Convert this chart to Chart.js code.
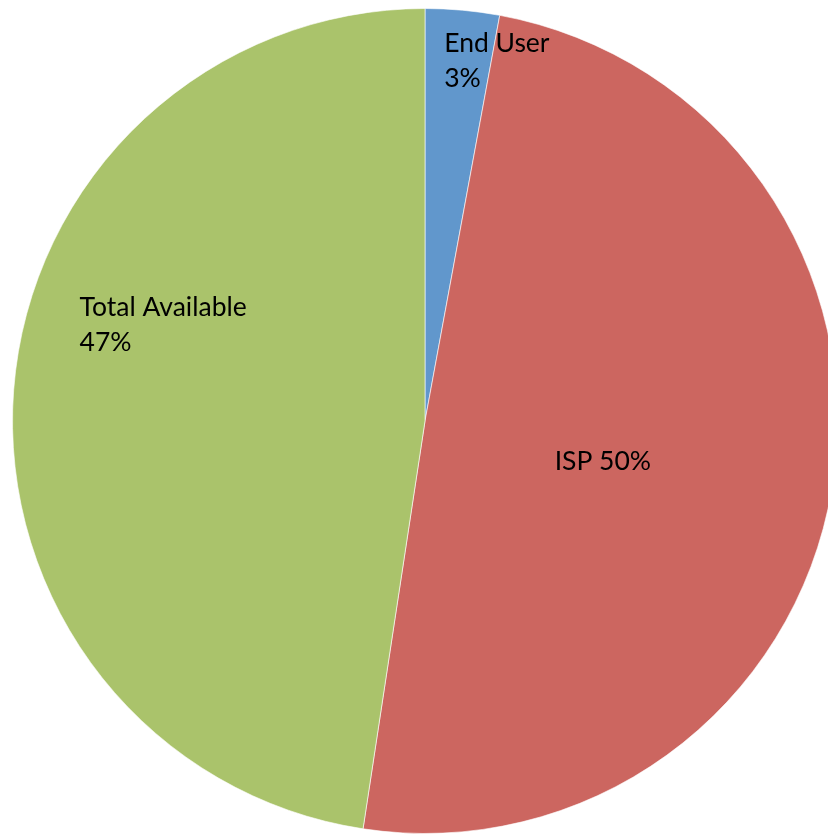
<!DOCTYPE html>
<html>
<head>
<meta charset="utf-8">
<script src="https://cdn.jsdelivr.net/npm/chart.js@4/dist/chart.umd.min.js"></script>
<style>
html,body{margin:0;padding:0;background:#fff;overflow:hidden;width:828px;height:835px;}
#wrap{position:absolute;left:0;top:0;width:850px;height:842px;}
</style>
</head>
<body>
<div id="wrap"><canvas id="c" width="850" height="842"></canvas></div>
<script>
const categories = ['End User', 'ISP', 'Total Available'];
const shares = [2.9, 49.5, 47.6];
const percentLabels = ['3%', '50%', '47%'];
const colors = ['#6197CC', '#CC6660', '#AAC36B'];

// label placement: [angle in degrees clockwise from 12 o'clock, fraction of radius, multiline]
const labelPlacement = [
  {angle: 11.3, frac: 0.889, lines: (c, p) => [c, p]},
  {angle: 102.7, frac: 0.442, lines: (c, p) => [c + ' ' + p]},
  {angle: 290.1, frac: 0.676, lines: (c, p) => [c, p]}
];

const labelPlugin = {
  id: 'pieLabels',
  afterDatasetsDraw(chart) {
    const ctx = chart.ctx;
    const meta = chart.getDatasetMeta(0);
    ctx.save();
    ctx.font = '26.5px Lato, "Open Sans", sans-serif';
    ctx.fillStyle = '#000';
    ctx.textBaseline = 'middle';
    ctx.textAlign = 'left';
    const lh = 35;
    meta.data.forEach((arc, i) => {
      const pl = labelPlacement[i];
      const a = pl.angle * Math.PI / 180;
      const cx = arc.x + Math.sin(a) * arc.outerRadius * pl.frac;
      const cy = arc.y - Math.cos(a) * arc.outerRadius * pl.frac;
      const lines = pl.lines(categories[i], percentLabels[i]);
      const w = Math.max(...lines.map(l => ctx.measureText(l).width));
      const top = cy - (lines.length - 1) * lh / 2;
      lines.forEach((l, k) => ctx.fillText(l, cx - w / 2, top + k * lh));
    });
    ctx.restore();
  }
};

new Chart(document.getElementById('c'), {
  type: 'pie',
  data: {
    labels: categories,
    datasets: [{
      data: shares,
      backgroundColor: colors,
      borderColor: 'rgba(255,255,255,0.6)',
      borderWidth: 1
    }]
  },
  options: {
    responsive: false,
    animation: false,
    layout: {padding: {left: 12, right: 12, top: 8, bottom: 8}},
    plugins: {legend: {display: false}, tooltip: {enabled: false}}
  },
  plugins: [labelPlugin]
});
</script>
</body>
</html>
